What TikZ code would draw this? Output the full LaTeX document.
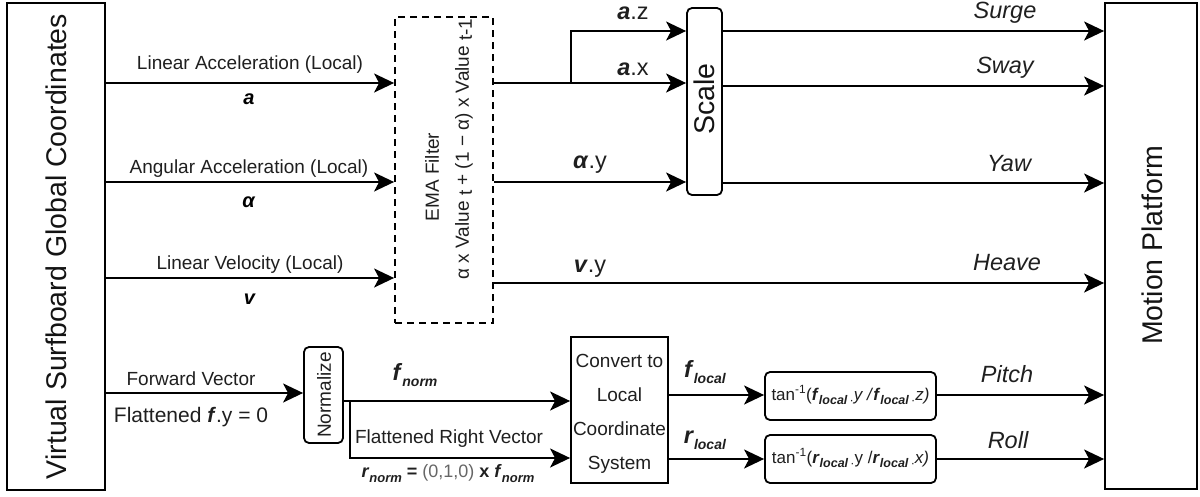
\documentclass[tikz,border=0pt]{standalone}
\usepackage{fontspec}
\setmainfont{Liberation Sans}
\usetikzlibrary{arrows.meta}
\newcommand\bi[1]{\textbf{\textit{#1}}}
\newcommand\lowsub[2]{\raisebox{-#1}{#2}}
\newcommand\tsub[1]{\lowsub{4pt}{\fontsize{12.5}{13}\selectfont\bi{#1}\,\textperiodcentered}}
\begin{document}
\begin{tikzpicture}[x=1pt,y=-1pt,
  line join=miter,
  frame/.style={draw, line width=1.8pt, inner sep=0pt},
  rbox/.style={frame, rounded corners=5pt},
  dbox/.style={frame, dashed, dash pattern=on 7pt off 5pt},
  arr/.style={line width=1.8pt, -{Stealth[length=20pt,width=19pt,inset=5pt]}},
  lbl/.style={inner sep=0pt, anchor=base, text=black!88, font=\fontsize{19}{23}\selectfont},
  sym/.style={inner sep=0pt, anchor=base, text=black, font=\fontsize{20}{24}\selectfont},
  mid/.style={inner sep=0pt, anchor=base, text=black!88, font=\fontsize{23.5}{28}\selectfont},
  outl/.style={inner sep=0pt, anchor=base, text=black!88, font=\fontsize{23.5}{28}\selectfont\itshape},
  big/.style={inner sep=0pt, text=black!92, font=\fontsize{28.5}{34}\selectfont},
  rot/.style={inner sep=0pt, text=black!88, rotate=90, font=\fontsize{19}{23}\selectfont}
]
\useasboundingbox (0,0) rectangle (1200,496);

% ---- boxes ----
\node[frame, minimum width=98pt, minimum height=487pt] (vsgc) at (56,246.5) {};
\node[dbox, minimum width=98pt, minimum height=306pt] (ema) at (444,170) {};
\node[rbox, minimum width=35pt, minimum height=187pt] (scale) at (704.5,101.5) {};
\node[frame, minimum width=92pt, minimum height=486pt] (mp) at (1151,246) {};
\node[rbox, minimum width=39pt, minimum height=96pt] (norm) at (323.5,395) {};
\node[frame, minimum width=97pt, minimum height=146pt] (conv) at (619.5,410) {};
\node[rbox, minimum width=171pt, minimum height=48pt] (tanf) at (850.5,396) {};
\node[rbox, minimum width=171pt, minimum height=48pt] (tanr) at (850.5,459) {};

% ---- box texts ----
\node[big, rotate=90] (vsgct) at (vsgc.center) {Virtual Surfboard Global Coordinates};
\node[big, rotate=90] (mpt) at (1152,245) {Motion Platform};
\node[big, rotate=90] (scalet) at (704,99) {Scale};
\node[rot] (normt) at (324,395) {Normalize};
\node[rot] (emat1) at (432,177) {EMA Filter};
\node[rot] (emat2) at (464,149) {α x Value\lowsub{3pt}{ t} + (1 − α) x Value\lowsub{3pt}{ t-1}};
\node[inner sep=0pt, align=center, text=black!88, font=\fontsize{19}{34}\selectfont] (convt) at (619.5,414)
  {Convert to\\Local\\Coordinate\\System};
\node[inner sep=0pt, text=black!88, font=\fontsize{17}{20}\selectfont] (tanft) at (850.5,395)
  {tan\textsuperscript{-1}(\bi{f}\tsub{local}\textit{y /}\bi{f}\tsub{local}\textit{z)}};
\node[inner sep=0pt, text=black!88, font=\fontsize{17}{20}\selectfont] (tanrt) at (850.5,458)
  {tan\textsuperscript{-1}(\bi{r}\tsub{local}y /\bi{r}\tsub{local}\textit{x)}};

% ---- level coordinates ----
\coordinate (yLA) at (0,83);
\coordinate (yAA) at (0,182);
\coordinate (yLV) at (0,278);
\coordinate (yHV) at (0,283);
\coordinate (yFV) at (0,393);
\coordinate (yAZ) at (0,31);
\coordinate (ySW) at (0,86);
\coordinate (yYW) at (0,183);
\coordinate (yFN) at (0,401);
\coordinate (yRN) at (0,458);
\coordinate (yPT) at (0,395);
\coordinate (yRL) at (0,459);
\coordinate (brA) at (571,83);
\coordinate (brN) at (350,401);

% ---- connectors ----
\draw[arr] (vsgc.east |- yLA) -- (ema.west |- yLA);
\draw[arr] (vsgc.east |- yAA) -- (ema.west |- yAA);
\draw[arr] (vsgc.east |- yLV) -- (ema.west |- yLV);
\draw[arr] (vsgc.east |- yFV) -- (norm.west |- yFV);
\draw[arr] (ema.east |- yLA) -- (scale.west |- yLA);
\draw[arr] (brA) |- (scale.west |- yAZ);
\draw[arr] (ema.east |- yAA) -- (scale.west |- yAA);
\draw[arr] (ema.east |- yHV) -- (mp.west |- yHV);
\draw[arr] (scale.east |- yAZ) -- (mp.west |- yAZ);
\draw[arr] (scale.east |- ySW) -- (mp.west |- ySW);
\draw[arr] (scale.east |- yYW) -- (mp.west |- yYW);
\draw[arr] (norm.east |- yFN) -- (conv.west |- yFN);
\draw[arr] (brN) |- (conv.west |- yRN);
\draw[arr] (conv.east |- yPT) -- (tanf.west |- yPT);
\draw[arr] (conv.east |- yRL) -- (tanr.west |- yRL);
\draw[arr] (tanf.east |- yPT) -- (mp.west |- yPT);
\draw[arr] (tanr.east |- yRL) -- (mp.west |- yRL);

% ---- labels ----
\node[lbl] (l1) at (250,69) {Linear Acceleration (Local)};
\node[sym] (l1s) at (249,104) {\bi{a}};
\node[lbl] (l2) at (249,173) {Angular Acceleration (Local)};
\node[sym] (l2s) at (249,207) {\bi{α}};
\node[lbl] (l3) at (250,269) {Linear Velocity (Local)};
\node[sym] (l3s) at (250,304) {\bi{v}};
\node[lbl] (l4) at (191,385) {Forward Vector};
\node[lbl, font=\fontsize{21}{25}\selectfont] (l4s) at (191,422) {Flattened \bi{f}.y = 0};

\node[mid] (az) at (633,19) {\bi{a}.z};
\node[mid] (ax) at (633,75) {\bi{a}.x};
\node[mid] (ay) at (590,168) {\bi{α}.y};
\node[mid] (vy) at (590,272) {\bi{v}.y};

\node[mid] (fn) at (415,380) {\bi{f}\lowsub{6pt}{\fontsize{14}{14}\selectfont\bi{norm}}};
\node[lbl] (frv) at (449,443) {Flattened Right Vector};
\node[lbl, font=\fontsize{18}{22}\selectfont] (rn) at (448,477)
  {\bi{r}\lowsub{5pt}{\fontsize{13}{13}\selectfont\bi{norm}}\textbf{ = }\textcolor{black!60}{(0,1,0)}\textbf{ x }\bi{f}\lowsub{5pt}{\fontsize{13}{13}\selectfont\bi{norm}}};
\node[mid] (fl) at (705,377) {\bi{f}\lowsub{6pt}{\fontsize{14}{14}\selectfont\bi{local}}};
\node[mid] (rl) at (705,443) {\bi{r}\lowsub{6pt}{\fontsize{14}{14}\selectfont\bi{local}}};

\node[outl] (o1) at (1005,18) {Surge};
\node[outl] (o2) at (1005,73) {Sway};
\node[outl] (o3) at (1009,171) {Yaw};
\node[outl] (o4) at (1007,270) {Heave};
\node[outl] (o5) at (1007,382) {Pitch};
\node[outl] (o6) at (1008,448) {Roll};
\end{tikzpicture}
\end{document}
